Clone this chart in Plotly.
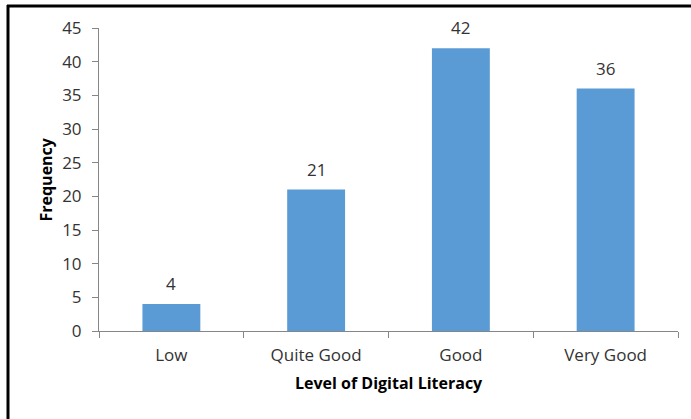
import plotly.graph_objects as go

categories = ["Low", "Quite Good", "Good", "Very Good"]
frequency = [4, 21, 42, 36]
y_ticks = [0, 5, 10, 15, 20, 25, 30, 35, 40, 45]

W, H = 691, 419
L, R, T, B = 99, 13, 28, 88
pw, ph = W - L - R, H - T - B

def px(x):
    return (x - L) / pw

def py(y):
    return (H - B - y) / ph

font_family = "Open Sans, Noto Sans, sans-serif"
axis_color = "#868686"
text_color = "#333333"

fig = go.Figure(go.Bar(
    x=categories, y=frequency,
    marker=dict(color="#5B9BD5", line=dict(width=0)),
    hoverinfo="x+y",
))

value_labels = [
    dict(x=c, y=v, xref="x", yref="y", text=str(v), showarrow=False,
         xanchor="center", yanchor="bottom", yshift=7,
         font=dict(size=17, color=text_color, family=font_family))
    for c, v in zip(categories, frequency)
]

fig.update_layout(
    width=W, height=H,
    margin=dict(l=L, r=R, t=T, b=B, autoexpand=False),
    paper_bgcolor="white", plot_bgcolor="white",
    bargap=0.6,
    showlegend=False,
    font=dict(family=font_family, color=text_color),
    xaxis=dict(
        automargin=False,
        showline=True, linecolor=axis_color, linewidth=1,
        ticks="outside", tickson="boundaries", ticklen=6, tickcolor=axis_color,
        tickfont=dict(size=17, color=text_color), ticklabelstandoff=9,
        showgrid=False, zeroline=False,
    ),
    yaxis=dict(
        automargin=False,
        range=[0, 45], tickvals=y_ticks,
        showline=True, linecolor=axis_color, linewidth=1,
        ticks="outside", ticklen=6, tickcolor=axis_color,
        tickfont=dict(size=17, color=text_color), ticklabelstandoff=7,
        showgrid=False, zeroline=False,
    ),
    annotations=value_labels + [
        dict(text="<b>Level of Digital Literacy</b>", xref="paper", yref="paper",
             x=0.5, y=py(383), xanchor="center", yanchor="middle", showarrow=False,
             font=dict(size=16, color="#000000")),
        dict(text="<b>Frequency</b>", xref="paper", yref="paper", textangle=-90,
             x=px(45), y=0.5, xanchor="center", yanchor="middle", showarrow=False,
             font=dict(size=16, color="#000000")),
    ],
    shapes=[
        dict(type="line", xref="paper", yref="paper", x0=px(8), x1=px(8), y0=py(5), y1=py(425),
             line=dict(color="black", width=3)),
        dict(type="line", xref="paper", yref="paper", x0=px(7), x1=px(700), y0=py(6), y1=py(6),
             line=dict(color="black", width=3)),
    ],
)

fig.write_html("out.html", config={"displayModeBar": False},
               post_script="document.body.style.margin='0';")
